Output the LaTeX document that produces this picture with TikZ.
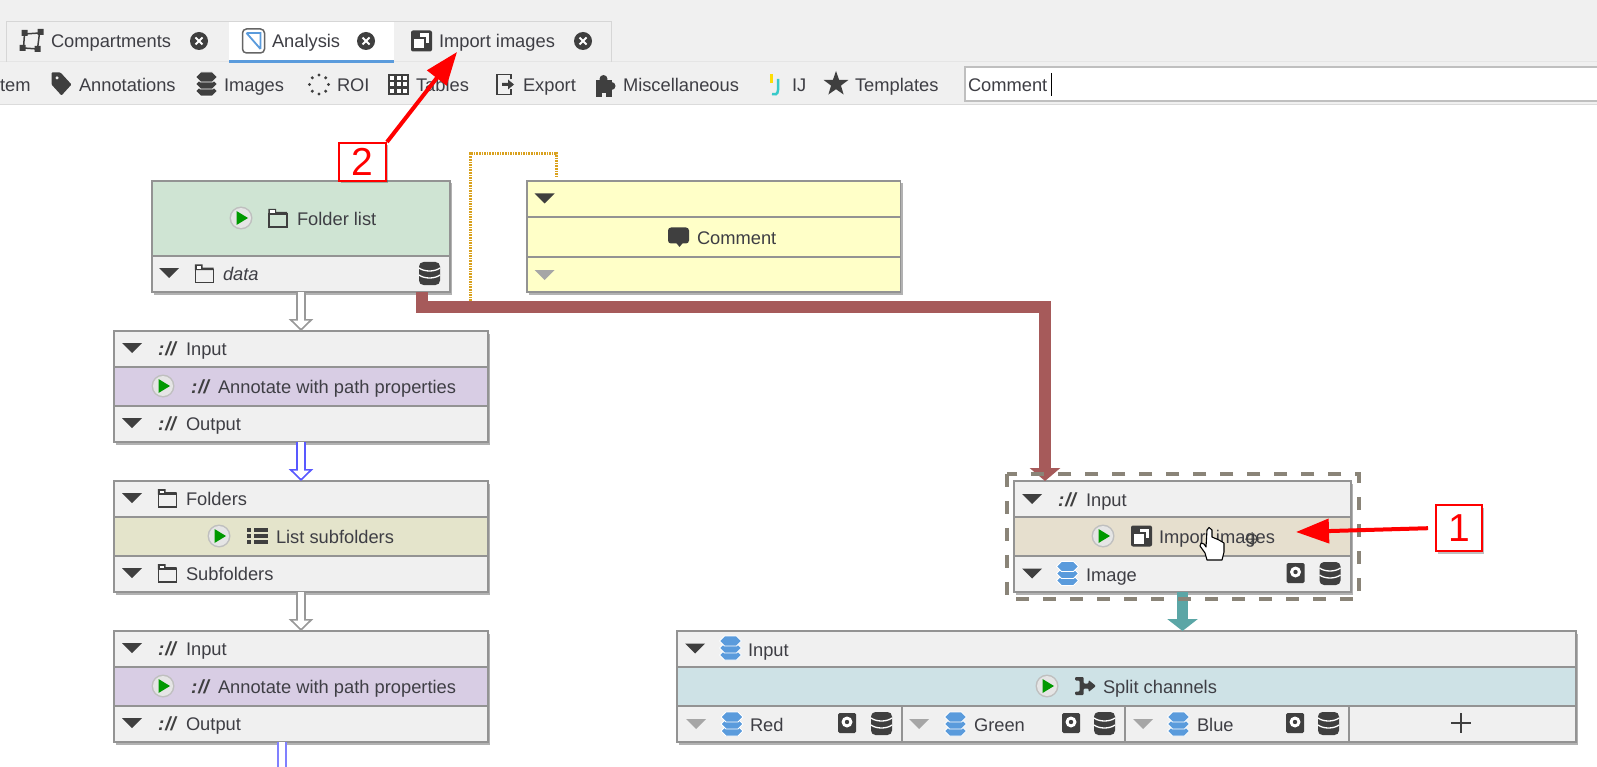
\documentclass[tikz,border=0pt]{standalone}
\usepackage{fontspec}
\setmainfont{Liberation Sans}
\usetikzlibrary{arrows.meta,shadows,shapes.geometric}
\definecolor{dark}{HTML}{3F3F3F}
\definecolor{txt}{HTML}{3E3E44}
\definecolor{panel}{HTML}{F0F0F0}
\definecolor{iconblue}{HTML}{5A9BDC}
\definecolor{tealc}{HTML}{5BA6A6}
\definecolor{brown}{HTML}{A65A5A}
\definecolor{orangec}{HTML}{D9A11E}
\definecolor{boxedge}{HTML}{939393}
\definecolor{dashc}{HTML}{8A8478}
\definecolor{greenb}{HTML}{CFE4D3}
\definecolor{yel}{HTML}{FFFFC8}
\definecolor{purp}{HTML}{D8CDE4}
\definecolor{oliv}{HTML}{E4E4CB}
\definecolor{tanc}{HTML}{E6DFCE}
\definecolor{tealb}{HTML}{CEE2E6}
\newcounter{auton}
\tikzset{
  block/.style={draw=boxedge,line width=1.4pt,fill=panel,inner sep=0pt,outer sep=0pt,
    drop shadow={shadow xshift=2pt,shadow yshift=-2.5pt,opacity=.3,fill=black}},
  txtn/.style={inner sep=0pt,outer sep=0pt,anchor=west,text=txt,text height=13pt,text depth=0pt,
    font=\fontsize{18.3}{20}\selectfont},
  hollowouter/.style={line width=10pt,draw=#1,-{Triangle[length=12pt,width=24pt,fill=#1]}},
  hollowinner/.style={line width=5.5pt,draw=white,shorten >=2.5pt,-{Triangle[length=8pt,width=16pt,fill=white]}},
  redarrow/.style={line width=4pt,draw=red,-{Triangle[length=33pt,width=24pt,fill=red]}},
  tag/.style={draw=red,line width=2pt,fill=white,inner sep=0pt,text=red,font=\fontsize{39}{40}\selectfont,
    drop shadow={shadow xshift=2pt,shadow yshift=-2.5pt,opacity=.25,fill=black}},
}
\newcommand\lbl[3]{\stepcounter{auton}\node[txtn] (lbl\theauton) at (#1,#2) {#3};}
\newcommand\urlic[2]{\stepcounter{auton}\node[txtn,anchor=center,text=dark,font=\fontsize{19}{20}\selectfont\bfseries\itshape] (lbl\theauton) at (#1,#2) {:\kern1pt//};}
\newcommand\tri[3]{\fill[#3] (#1-10,#2-5) -- (#1+10,#2-5) -- (#1,#2+5) -- cycle;}
\newcommand\playb[2]{\begin{scope}[shift={(#1,#2)}]
  \fill[white!75!black] (0,0) circle (11.5); \fill[white!90!black] (0,0) circle (10);
  \fill[green!60!black] (-4.5,-7) -- (7,0) -- (-4.5,7) -- cycle;\end{scope}}
\newcommand\dbic[2]{\begin{scope}[shift={(#1,#2)}]
  \fill[dark,rounded corners=4.5pt] (-10.5,-11.5) rectangle (10.5,11.5);
  \draw[white,line width=1.3pt] (-10.5,-5.5) .. controls (-5,-1.5) and (5,-1.5) .. (10.5,-5.5);
  \draw[white,line width=1.3pt] (-10.5,1.5) .. controls (-5,5.5) and (5,5.5) .. (10.5,1.5);\end{scope}}
\newcommand\diskic[2]{\begin{scope}[shift={(#1,#2)}]
  \fill[dark,rounded corners=1.5pt] (-9,-10) rectangle (9,10);
  \fill[white] (0,-1) circle (5.5); \fill[dark] (0,-1) circle (2.2);\end{scope}}
\newcommand\layersic[3]{\begin{scope}[shift={(#1,#2)}]
  \foreach \d in {7,0,-7}{\fill[#3,draw=white,line width=.8pt] (-11,\d) -- (-6,\d-5) -- (6,\d-5) -- (11,\d) -- (6,\d+5) -- (-6,\d+5) -- cycle;}\end{scope}}
\newcommand\folderic[2]{\begin{scope}[shift={(#1,#2)}]
  \draw[dark,line width=1.5pt] (-9,-4) rectangle (9,9);
  \fill[dark] (-9.7,-9) -- (-2,-9) -- (-2,-6) -- (9,-6) -- (9,-3.5) -- (-9.7,-3.5) -- cycle;\fill[white] (-7.7,-7.5) rectangle (-3.5,-5);\end{scope}}
\newcommand\importic[2]{\begin{scope}[shift={(#1,#2)}]
  \fill[dark,rounded corners=2pt] (-10.5,-10.5) rectangle (10.5,10.5);
  \fill[white] (-2,-7.5) rectangle (7.5,2); \fill[dark] (-4,-4) rectangle (4,4); \fill[white] (-7.5,-2) rectangle (2,7.5);\end{scope}}
\newcommand\closeb[2]{\begin{scope}[shift={(#1,#2)}]
  \fill[dark] (0,0) circle (9);
  \draw[white,line width=2pt] (-3.5,-3.5) -- (3.5,3.5) (-3.5,3.5) -- (3.5,-3.5);\end{scope}}
\newcommand\commentic[2]{\begin{scope}[shift={(#1,#2)}]
  \fill[dark,rounded corners=3pt] (-10.5,-9.5) rectangle (10.5,6.5);
  \fill[dark] (-3,5) -- (5,5) -- (1,10) -- cycle;\end{scope}}
\newcommand\listic[2]{\begin{scope}[shift={(#1,#2)}]
  \foreach \d in {-6,0,6}{\fill[dark] (-10.5,\d-1.6) rectangle (-7,\d+1.6); \fill[dark] (-4,\d-1.6) rectangle (10.5,\d+1.6);}\end{scope}}
\newcommand\splitic[2]{\begin{scope}[shift={(#1,#2)}]
  \fill[dark,rounded corners=1pt] (-10.5,-9) -- (-2,-9) -- (-2,-2.5) -- (3,-2.5) -- (3,-6) -- (10.5,0) -- (3,6) -- (3,2.5) -- (-2,2.5) -- (-2,9) -- (-10.5,9) -- (-10.5,5.5) -- (-6,5.5) -- (-6,-5.5) -- (-10.5,-5.5) -- cycle;\end{scope}}
% box with header, middle band and footer
\newcommand\threeblk[8]{% name x1 x2 y1 y2 y3 y4 mid
  \pgfmathsetmacro\bw{#3-#2}\pgfmathsetmacro\bh{#7-#4}
  \pgfmathsetmacro\bx{(#2+#3)/2}\pgfmathsetmacro\by{(#4+#7)/2}
  \node[block,minimum width=\bw pt,minimum height=\bh pt] (#1) at (\bx,\by) {};
  \path[fill=#8,draw=boxedge,line width=1.4pt] (#2,#5) rectangle (#3,#6);}
\begin{document}
\begin{tikzpicture}[x=1pt,y=-1pt]
\useasboundingbox (0,0) rectangle (1597,767);
\fill[white] (0,0) rectangle (1597,767);
% top bars
\fill[panel] (0,0) rectangle (1597,105);
\draw[white!86!black,line width=1.8pt] (0,104.5) -- (1597,104.5);
\draw[white!90!black,line width=1pt] (0,62) -- (1597,62);
\draw[white!84!black,line width=1pt] (6,62) -- (6,22) -- (611,22) -- (611,62);
\fill[white] (229,22) rectangle (394,60);
\fill[iconblue] (229,60) rectangle (394,63);
% tab: compartments
\begin{scope}[shift={(31.5,41)}]
  \draw[dark,line width=1.5pt] (-7,-7) -- (8,-8) -- (6,8) -- (-8,7) -- cycle;
  \fill[dark] (-10,-11) rectangle (-4,-5) (6,-12) rectangle (12,-6) (3,5) rectangle (9,11) (-12,4) rectangle (-6,10);
\end{scope}
\lbl{51}{41}{Compartments}
\closeb{199}{41}
% tab: analysis
\begin{scope}[shift={(253.5,41)}]
  \draw[dark!80,line width=1.5pt,rounded corners=4pt] (-11,-12) rectangle (11,12);
  \draw[iconblue,line width=1.8pt] (-7,-8) -- (7,-8) -- (7,8) (-7,-8) -- (7,8);
\end{scope}
\lbl{272}{41}{Analysis}
\closeb{366}{41}
% tab: import
\importic{421.5}{41}
\lbl{439}{41}{Import images}
\closeb{583}{41}
% toolbar
\lbl{0}{85}{tem}
\begin{scope}[shift={(61.5,83.5)}]
  \fill[dark,even odd rule,rounded corners=1pt] (-10,-11) -- (-1,-11) -- (10,1) -- (0,12) -- (-10,1) -- cycle (-6,-7) rectangle (-3,-4);
\end{scope}
\lbl{79}{85}{Annotations}
\layersic{206.5}{84}{dark}
\lbl{224}{85}{Images}
\foreach \a in {0,45,...,315}{\fill[dark] (319,84.5) ++(\a:9.5) circle (1.7);}
\lbl{337}{85}{ROI}
\begin{scope}[shift={(398.5,84.5)}]
  \fill[dark] (-10.5,-10.5) rectangle (10.5,10.5);
  \foreach \i in {-1,0,1}{\foreach \j in {-1,0,1}{\fill[white] (\i*6.5-2,\j*6.5-2) rectangle (\i*6.5+2,\j*6.5+2);}}
\end{scope}
\lbl{416}{85}{Tables}
\begin{scope}[shift={(505,84.5)}]
  \draw[dark,line width=1.8pt] (6,-5) -- (6,-10) -- (-8,-10) -- (-8,10) -- (6,10) -- (6,5);
  \fill[dark] (-3,-1.5) -- (3,-1.5) -- (3,-5) -- (9,0) -- (3,5) -- (3,1.5) -- (-3,1.5) -- cycle;
\end{scope}
\lbl{523}{85}{Export}
\begin{scope}[shift={(604.5,86)}]
  \fill[dark] (-9,-6) rectangle (7,7); \fill[dark] (-1,-7) circle (4); \fill[dark] (7,0) circle (4);
  \fill[dark] (-9,7) rectangle (-3,11); \fill[dark] (1,7) rectangle (7,11);
\end{scope}
\lbl{623}{85}{Miscellaneous}
\begin{scope}[shift={(775,85)}]
  \draw[tealc!60!cyan,line width=2.5pt] (3,-6) -- (3,5) .. controls (3,10) and (-1,10) .. (-3,9);
  \fill[yellow!80!orange] (-5,-11) rectangle (-2,-2);
\end{scope}
\lbl{792}{85}{IJ}
\stepcounter{auton}\node[star,star points=5,star point ratio=2.5,fill=dark,inner sep=0pt,minimum size=26pt] (lbl\theauton) at (836,84) {};
\lbl{855}{85}{Templates}
\path[fill=white,draw=white!75!black,line width=1.3pt] (965,67) rectangle (1600,101);
\lbl{968}{85}{Comment}
\draw[black,line width=1pt] (1051,73) -- (1051,96);
% blocks
\threeblk{folder}{152}{450}{181}{181}{256}{292}{greenb}
\playb{241}{218}\folderic{278}{218}\lbl{297}{219}{Folder list}
\tri{169}{273}{dark}\folderic{204.5}{273.5}
\stepcounter{auton}\node[txtn,font=\fontsize{18.3}{20}\selectfont\itshape] (lbl\theauton) at (223,274) {data};
\dbic{429.5}{273.5}
\node[block,fill=yel,minimum width=373.5pt,minimum height=111pt] (comment) at (713.75,236.5) {};
\draw[boxedge,line width=1.4pt] (527,217) -- (900.5,217) (527,257) -- (900.5,257);
\tri{544.5}{198.5}{dark}\tri{544.5}{275}{gray!70}
\commentic{678.5}{237}\lbl{697}{238}{Comment}
% annotate 1
\threeblk{annotA}{114}{488}{331}{367}{406}{442}{purp}
\tri{132}{348}{dark}\urlic{167}{349}\lbl{186}{349}{Input}
\playb{163}{386}\urlic{200}{387}\lbl{218}{387}{Annotate with path properties}
\tri{132}{423}{dark}\urlic{167}{424}\lbl{186}{424}{Output}
% subfolders
\threeblk{subf}{114}{488}{481}{517}{556}{592}{oliv}
\tri{132}{498}{dark}\folderic{167.5}{498}\lbl{186}{499}{Folders}
\playb{219}{536}\listic{257.5}{536}\lbl{276}{537}{List subfolders}
\tri{132}{573}{dark}\folderic{167.5}{573}\lbl{186}{574}{Subfolders}
% annotate 2
\threeblk{annotB}{114}{488}{631}{667}{706}{742}{purp}
\tri{132}{648}{dark}\urlic{167}{649}\lbl{186}{649}{Input}
\playb{163}{686}\urlic{200}{687}\lbl{218}{687}{Annotate with path properties}
\tri{132}{723}{dark}\urlic{167}{724}\lbl{186}{724}{Output}
% import images
\threeblk{importn}{1014}{1351}{481}{517}{556}{592}{tanc}
\tri{1032}{499}{dark}\urlic{1067}{499.5}\lbl{1086}{499.5}{Input}
\playb{1103}{536}\importic{1141.5}{536}\lbl{1159}{537}{Import images}
\tri{1032}{573.5}{dark}\layersic{1067.5}{573.5}{iconblue}\lbl{1086}{574.5}{Image}
\diskic{1295.5}{573}\dbic{1330}{573.5}
% split channels
\threeblk{splitn}{677}{1576}{631}{667}{706}{742}{tealb}
\tri{695}{648.5}{dark}\layersic{730.5}{648}{iconblue}\lbl{748}{649.5}{Input}
\playb{1047}{686}\splitic{1085.5}{686}\lbl{1103}{687}{Split channels}
\draw[boxedge,line width=1.2pt] (902,706) -- (902,742) (1125,706) -- (1125,742) (1349,706) -- (1349,742);
\tri{696}{724}{gray!70}\layersic{732}{724}{iconblue}\lbl{750}{725}{Red}\diskic{847}{723}\dbic{881.5}{723.5}
\tri{919}{724}{gray!70}\layersic{955.5}{724}{iconblue}\lbl{974}{725}{Green}\diskic{1071}{723}\dbic{1104.5}{723.5}
\tri{1143}{724}{gray!70}\layersic{1178.5}{724}{iconblue}\lbl{1197}{725}{Blue}\diskic{1295}{723}\dbic{1328.5}{723.5}
\draw[dark,line width=2pt] (1451,723) -- (1471,723) (1461,713) -- (1461,733);
% connectors
\coordinate (offA) at (282,767);
\foreach \a/\b/\c in {folder/annotA/gray!80,subf/annotB/gray!80,annotA/subf/blue!65}{
  \draw[hollowouter=\c] (\a.south) -- (\b.north);
  \draw[hollowinner] (\a.south) -- (\b.north);
}
\draw[blue!50,line width=10pt] (annotB.south -| offA) -- (offA);
\draw[white,line width=5.5pt] (annotB.south -| offA) -- (offA);
\coordinate (brstart) at (422,292);
\coordinate (brturn) at (1045,307);
\draw[brown,line width=12pt,miter limit=10,-{Triangle[length=13pt,width=30pt,fill=brown]}] (brstart) |- (brturn) -- (brturn |- importn.north);
\draw[tealc,line width=11pt,-{Triangle[length=12pt,width=30pt,fill=tealc]}] (importn.south) -- (importn.south |- splitn.north);
\coordinate (orstart) at (470,301);
\coordinate (orend) at (556,176);
\coordinate (ortop) at (470,154);
\draw[orangec,line width=3pt,dash pattern=on 1.6pt off 1pt] (orstart) -- (ortop) -- (ortop -| orend) -- (orend);
% selection outline
\node[minimum width=352pt,minimum height=125pt,inner sep=0pt] (grp) at (1183,536.5) {};
\draw[dashc,line width=4pt,dash pattern=on 13pt off 14pt] (grp.north west) rectangle (grp.south east);
% mouse pointers
\draw[black,fill=white,line width=1.1pt,line join=round] (1207,530) -- (1209,527.5) -- (1212,530) -- (1212,537) -- (1219,540) -- (1224,543) -- (1224,552) -- (1222,560) -- (1207,560) -- (1205,553) -- (1200,546) -- (1201,543) -- (1204,544) -- (1206,547) -- cycle;
\draw[dark,line width=1pt] (1252,539) circle (5) (1245,539) -- (1259,539) (1252,532) -- (1252,546);
% callouts
\node[tag,minimum width=47pt,minimum height=38pt] (box2) at (362.5,162) {2};
\node[tag,minimum width=46pt,minimum height=46pt] (box1) at (1459,528) {1};
\coordinate (tip1) at (1296,532);
\coordinate (tip2) at (457,52);
\draw[redarrow,shorten <=7pt] (box1.west) -- (tip1);
\draw[redarrow] (box2.north east) -- (tip2);
\end{tikzpicture}
\end{document}
